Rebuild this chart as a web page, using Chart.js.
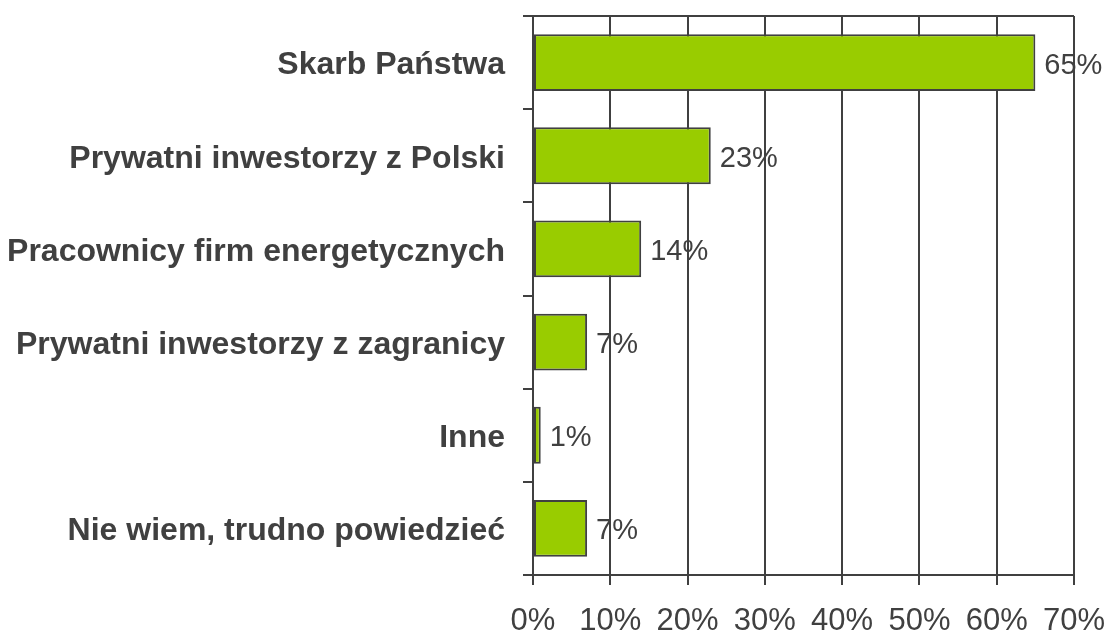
<!DOCTYPE html>
<html>
<head>
<meta charset="utf-8">
<script src="https://cdn.jsdelivr.net/npm/chart.js@4"></script>
<style>
  html, body { margin: 0; padding: 0; background: #fff; }
  #wrap { width: 1109px; height: 632px; }
</style>
</head>
<body>
<div id="wrap"><canvas id="myChart" width="1109" height="632"></canvas></div>
<script>
const categories = [
    'Skarb Państwa',
    'Prywatni inwestorzy z Polski',
    'Pracownicy firm energetycznych',
    'Prywatni inwestorzy z zagranicy',
    'Inne',
    'Nie wiem, trudno powiedzieć'
];
const shares = [65, 23, 14, 7, 1, 7];
const tickValues = [0, 10, 20, 30, 40, 50, 60, 70];

const ink = '#404040';
const font = '"Liberation Sans", Arial, sans-serif';

// value labels next to the bar ends
const valueLabels = {
    id: 'valueLabels',
    afterDatasetsDraw(chart) {
        const ctx = chart.ctx;
        const meta = chart.getDatasetMeta(0);
        ctx.save();
        ctx.font = '29px ' + font;
        ctx.fillStyle = ink;
        ctx.textAlign = 'left';
        ctx.textBaseline = 'middle';
        meta.data.forEach((bar, i) => {
            ctx.fillText(shares[i] + '%', bar.x + 9, bar.y + 3);
        });
        ctx.restore();
    }
};

// line along the top of the plot
const topLine = {
    id: 'topLine',
    afterDraw(chart) {
        const a = chart.chartArea;
        const ctx = chart.ctx;
        ctx.save();
        ctx.strokeStyle = ink;
        ctx.lineWidth = 2;
        ctx.beginPath();
        ctx.moveTo(a.left, a.top);
        ctx.lineTo(a.right, a.top);
        ctx.stroke();
        ctx.restore();
    }
};

const ctx = document.getElementById('myChart').getContext('2d');
new Chart(ctx, {
    type: 'bar',
    data: {
        labels: categories,
        datasets: [{
            data: shares,
            backgroundColor: '#99cc00',
            borderColor: ink,
            borderWidth: 2,
            borderSkipped: false,
            barPercentage: 0.61,
            categoryPercentage: 1
        }]
    },
    options: {
        indexAxis: 'y',
        responsive: false,
        animation: false,
        layout: { padding: { top: 16, right: 35, left: 0, bottom: 0 } },
        plugins: {
            legend: { display: false },
            tooltip: { enabled: false }
        },
        scales: {
            x: {
                min: 0,
                max: 70,
                afterBuildTicks: (scale) => {
                    scale.ticks = tickValues.map(v => ({ value: v }));
                },
                afterFit: (scale) => {
                    scale.height = 57;
                    scale.paddingLeft = 0;
                    scale.paddingRight = 0;
                },
                grid: {
                    color: ink,
                    lineWidth: 2,
                    tickLength: 10
                },
                border: { color: ink, width: 2 },
                ticks: {
                    color: ink,
                    padding: 18,
                    font: { family: font, size: 31 },
                    callback: (v) => v + '%'
                }
            },
            y: {
                afterFit: (scale) => {
                    scale.width = 533;
                    scale.paddingTop = 0;
                    scale.paddingBottom = 0;
                },
                grid: {
                    drawOnChartArea: false,
                    color: ink,
                    lineWidth: 2,
                    tickLength: 10
                },
                border: { color: ink, width: 2 },
                ticks: {
                    color: ink,
                    padding: 18,
                    labelOffset: 3,
                    font: { family: font, size: 32, weight: 'bold' }
                }
            }
        }
    },
    plugins: [valueLabels, topLine]
});
</script>
</body>
</html>
